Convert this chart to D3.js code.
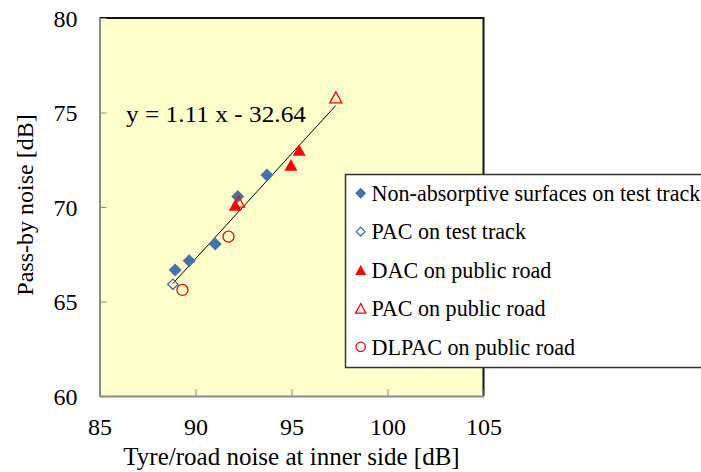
<!DOCTYPE html>
<html>
<head>
<meta charset="utf-8">
<script src="https://cdn.jsdelivr.net/npm/d3@7"></script>
<style>
  html, body { margin: 0; padding: 0; background: #ffffff; }
  svg { display: block; }
  text { font-family: "Liberation Serif", "Times New Roman", Times, serif; fill: #000; }
</style>
</head>
<body>
<svg id="chart" width="701" height="472"></svg>
<script>
// Tyre/road noise (inner side) vs pass-by noise, by surface type
const nonAbsX = [88.94, 89.67, 91.03, 92.20, 93.72];
const nonAbsY = [66.67, 67.16, 68.04, 70.55, 71.69];
const pacTrackX = [88.82];
const pacTrackY = [65.91];
const dacRoadX = [92.07, 94.97, 95.40];
const dacRoadY = [70.11, 72.22, 73.02];
const pacRoadX = [92.24, 97.31];
const pacRoadY = [70.28, 75.80];
const dlpacRoadX = [89.32, 91.72];
const dlpacRoadY = [65.61, 68.43];

const fitSlope = 1.11;
const fitIntercept = -32.64;

const xTicks = [85, 90, 95, 100, 105];
const yTicks = [60, 65, 70, 75, 80];

const seriesNames = [
  "Non-absorptive surfaces on test track",
  "PAC on test track",
  "DAC on public road",
  "PAC on public road",
  "DLPAC on public road"
];

const blue = "#4573ab";
const red = "#ff0000";

const svg = d3.select("#chart");

const x = d3.scaleLinear().domain([85, 105]).range([99.5, 483.5]);
const y = d3.scaleLinear().domain([60, 80]).range([396, 18]);

// plot area
svg.append("rect")
  .attr("x", x(85)).attr("y", y(80))
  .attr("width", x(105) - x(85)).attr("height", y(60) - y(80))
  .attr("fill", "#ffffcc");

// frame: dark on top/right, grey axes on left/bottom
svg.append("path")
  .attr("d", `M${x(85)},${y(80)}H${x(105)}V${y(60)}`)
  .attr("fill", "none").attr("stroke", "#111").attr("stroke-width", 2);

// axes with inward ticks
const xAxis = d3.axisBottom(x).tickValues(xTicks).tickSizeInner(-7).tickSizeOuter(0).tickPadding(22);
const yAxis = d3.axisLeft(y).tickValues(yTicks).tickSizeInner(-7).tickSizeOuter(0).tickPadding(22);

const gx = svg.append("g").attr("transform", `translate(0,${y(60)})`).call(xAxis);
const gy = svg.append("g").attr("transform", `translate(${x(85)},0)`).call(yAxis);

[gx, gy].forEach(g => {
  g.select(".domain").attr("stroke", "#8a8a8a").attr("stroke-width", 2);
  g.selectAll(".tick line").attr("stroke", "#8a8a8a").attr("stroke-width", 1);
  g.selectAll(".tick text")
    .attr("font-family", "'Liberation Serif', 'Times New Roman', serif")
    .attr("font-size", 24).attr("fill", "#000");
});
gx.selectAll(".tick text").attr("dy", "0.71em");
gy.selectAll(".tick text").attr("dy", "0.35em");

// axis titles
svg.append("text")
  .attr("x", (x(85) + x(105)) / 2).attr("y", 465)
  .attr("text-anchor", "middle")
  .attr("font-size", 25)
  .text("Tyre/road noise at inner side [dB]");

svg.append("text")
  .attr("transform", "translate(33,205) rotate(-90)")
  .attr("text-anchor", "middle")
  .attr("font-size", 24)
  .text("Pass-by noise [dB]");

// regression line across the measured range
const allX = [...nonAbsX, ...pacTrackX, ...dacRoadX, ...pacRoadX, ...dlpacRoadX];
const [xMin, xMax] = d3.extent(allX);
svg.append("line")
  .attr("x1", x(xMin)).attr("y1", y(fitSlope * xMin + fitIntercept))
  .attr("x2", x(xMax)).attr("y2", y(fitSlope * xMax + fitIntercept))
  .attr("stroke", "#000").attr("stroke-width", 1);

svg.append("text")
  .attr("x", 126).attr("y", 122)
  .attr("font-size", 24)
  .attr("textLength", 180).attr("lengthAdjust", "spacingAndGlyphs")
  .text(`y = ${fitSlope.toFixed(2)} x - ${Math.abs(fitIntercept).toFixed(2)}`);

// marker shapes (centred at 0,0)
function diamondPath(r) { return `M0,${-r}L${r},0L0,${r}L${-r},0Z`; }
function trianglePath(w, h) { return `M0,${-h / 2}L${w / 2},${h / 2}L${-w / 2},${h / 2}Z`; }

const markers = [
  { name: seriesNames[0], xs: nonAbsX, ys: nonAbsY,
    draw: (g, s) => g.append("path").attr("d", diamondPath(6.5 * s)).attr("fill", blue) },
  { name: seriesNames[1], xs: pacTrackX, ys: pacTrackY,
    draw: (g, s) => g.append("path").attr("d", diamondPath(5.2 * s)).attr("fill", "none")
      .attr("stroke", blue).attr("stroke-width", 1.3) },
  { name: seriesNames[2], xs: dacRoadX, ys: dacRoadY,
    draw: (g, s) => g.append("path").attr("d", trianglePath(13 * s, 11.5 * s)).attr("fill", red) },
  { name: seriesNames[3], xs: pacRoadX, ys: pacRoadY,
    draw: (g, s) => g.append("path").attr("d", trianglePath(12 * s, 11 * s)).attr("fill", "none")
      .attr("stroke", red).attr("stroke-width", 1.3) },
  { name: seriesNames[4], xs: dlpacRoadX, ys: dlpacRoadY,
    draw: (g, s) => g.append("circle").attr("r", 5.5 * s).attr("fill", "none")
      .attr("stroke", red).attr("stroke-width", 1.3) }
];

markers.forEach(m => {
  const pts = m.xs.map((v, i) => [v, m.ys[i]]);
  svg.append("g").selectAll("g").data(pts).join("g")
    .attr("transform", d => `translate(${x(d[0])},${y(d[1])})`)
    .each(function () { m.draw(d3.select(this), 1); });
});

// legend
const legend = svg.append("g");
legend.append("rect")
  .attr("x", 345.5).attr("y", 174.5).attr("width", 370).attr("height", 193)
  .attr("fill", "#ffffff").attr("stroke", "#333").attr("stroke-width", 1.5);

const rowY = d3.scalePoint().domain(seriesNames).range([193.3, 346.7]);
markers.forEach(m => {
  const row = legend.append("g").attr("transform", `translate(360.7,${rowY(m.name)})`);
  m.draw(row, 0.85);
  legend.append("text")
    .attr("x", 371.5).attr("y", rowY(m.name) + 7.8)
    .attr("font-size", 22.1)
    .text(m.name);
});
</script>
</body>
</html>
